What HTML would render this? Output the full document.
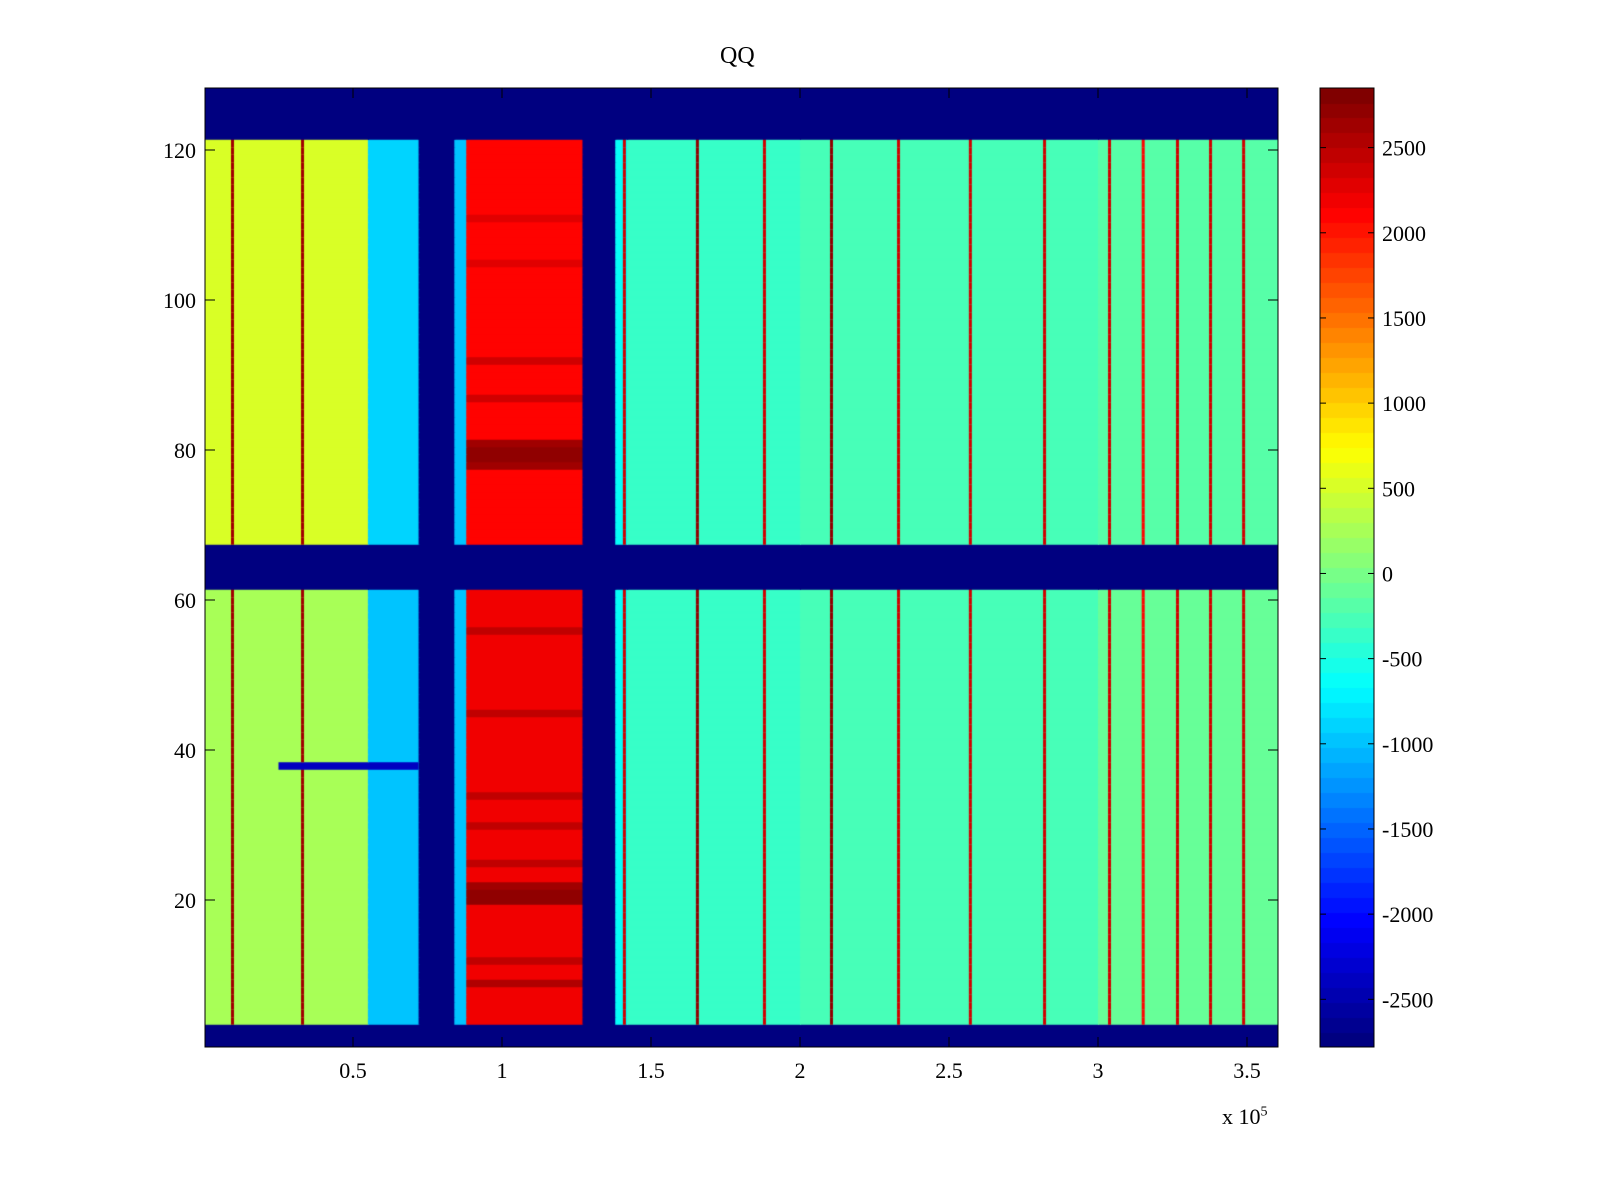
<!DOCTYPE html>
<html><head><meta charset="utf-8"><style>
body{margin:0;background:#fff;width:1600px;height:1200px;overflow:hidden;position:relative;font-family:"Liberation Serif",serif;}
.t{position:absolute;font-size:22px;color:#000;white-space:nowrap;}
canvas{position:absolute;}
</style></head><body>
<div class="t" style="left:720px;top:43px;font-size:24px">QQ</div>
<canvas id="hm" width="1073" height="959" style="left:205px;top:88px"></canvas>
<canvas id="cb" width="54" height="959" style="left:1320px;top:88px"></canvas>
<svg id="ax" width="1600" height="1200" style="position:absolute;left:0;top:0"></svg>
<div class="t" style="left:1222px;top:1104px">x 10<sup style="font-size:14px">5</sup></div>
<script>
const clim=[-2780,2850];
const bandEdges=[0,0.55,0.72,0.84,0.88,1.27,1.38,1.42,2.0,3.0,3.61];
const bandTop=[480,-850,-2800,-1000,2100,-2800,-650,-350,-250,-200];
const bandBottom=[250,-950,-2800,-1000,2150,-2800,-650,-400,-300,-100];
const blueRows=[1,2,3,62,63,64,65,66,67,122,123,124,125,126,127,128];
const spikeX=[0.094,0.329,1.409,1.654,1.879,2.104,2.329,2.570,2.819,3.037,3.15,3.265,3.376,3.487];
const spikeVal=[2600,2600,2400,2700,2400,2700,2400,2400,2400,2400,2100,2400,2400,2400];
const redRowBoost=[[78,500],[79,600],[80,600],[81,500],[20,600],[21,600],[22,500],[12,300],[87,300],[111,200],[30,300],[45,300],[9,400],[25,300],[34,300],[56,300],[92,300],[105,200]];
const streak={row:38,x0:0.25,x1:0.72,value:-2400};
const xTicks=[0.5,1,1.5,2,2.5,3,3.5];
const xTickLabels=["0.5","1","1.5","2","2.5","3","3.5"];
const yTicks=[20,40,60,80,100,120];
const cTicks=[2500,2000,1500,1000,500,0,-500,-1000,-1500,-2000,-2500];

const X=v=>204+v*298, Y=v=>1050-7.5*v;
const CY=v=>88+(clim[1]-v)/(clim[1]-clim[0])*959;
function jet(v){let t=(v-clim[0])/(clim[1]-clim[0]);t=Math.max(0,Math.min(1,t));t=Math.floor(t*63.999)/63;
 const c=a=>Math.round(255*Math.max(0,Math.min(1,1.5-Math.abs(4*t-a))));return `rgb(${c(3)},${c(2)},${c(1)})`;}
const hm=document.getElementById('hm').getContext('2d');
for(let r=1;r<=128;r++){
 const y0=Y(r+0.5)-88,y1=Y(r-0.5)-88;
 const top=r>=68;
 for(let b=0;b<bandEdges.length-1;b++){
  let v=top?bandTop[b]:bandBottom[b];
  if(b===4){for(const [rr,d] of redRowBoost) if(rr===r) v+=d;}
  if(blueRows.includes(r)) v=-2780;
  hm.fillStyle=jet(v);hm.fillRect(X(bandEdges[b])-205,y0,X(bandEdges[b+1])-X(bandEdges[b])+1,y1-y0+1);
 }
 if(blueRows.includes(r)) continue;
 spikeX.forEach((s,i)=>{hm.fillStyle=jet(spikeVal[i]);hm.fillRect(X(s)-206,y0,3,y1-y0+1);});
 if(r===streak.row){hm.fillStyle=jet(streak.value);hm.fillRect(X(streak.x0)-205,y0,X(streak.x1)-X(streak.x0),y1-y0+1);}
}
const cb=document.getElementById('cb').getContext('2d');
for(let i=0;i<64;i++){const v=clim[0]+(i+0.5)/64*(clim[1]-clim[0]);cb.fillStyle=jet(v);
 const ya=959-(i+1)/64*959;cb.fillRect(0,Math.floor(ya),54,Math.ceil(959/64)+1);}
const svg=document.getElementById('ax');const NS='http://www.w3.org/2000/svg';
function el(t,a,p){const e=document.createElementNS(NS,t);for(const k in a)e.setAttribute(k,a[k]);(p||svg).appendChild(e);return e;}
const frame=el('rect',{x:205,y:88,width:1073,height:959,fill:'none',stroke:'#000','stroke-width':1});


const cf=el('rect',{x:1320,y:88,width:54,height:959,fill:'none',stroke:'#000','stroke-width':1});


xTicks.forEach((v,i)=>{const x=X(v);
 el('line',{x1:x,x2:x,y1:1047,y2:1037,stroke:'#000'});el('line',{x1:x,x2:x,y1:88,y2:98,stroke:'#000'});
 const t=el('text',{x:x,y:1078,'text-anchor':'middle','font-size':22,'font-family':'Liberation Serif'});t.textContent=xTickLabels[i];
 
 });
yTicks.forEach(v=>{const y=Y(v);
 el('line',{x1:205,x2:215,y1:y,y2:y,stroke:'#000'});el('line',{x1:1268,x2:1278,y1:y,y2:y,stroke:'#000'});
 const t=el('text',{x:196,y:y+8,'text-anchor':'end','font-size':22,'font-family':'Liberation Serif'});t.textContent=v;
 
 });
cTicks.forEach(v=>{const y=CY(v);
 el('line',{x1:1320,x2:1326,y1:y,y2:y,stroke:'#000'});el('line',{x1:1368,x2:1374,y1:y,y2:y,stroke:'#000'});
 const t=el('text',{x:1382,y:y+8,'font-size':22,'font-family':'Liberation Serif'});t.textContent=v;
 
 });
</script>
</body></html>
